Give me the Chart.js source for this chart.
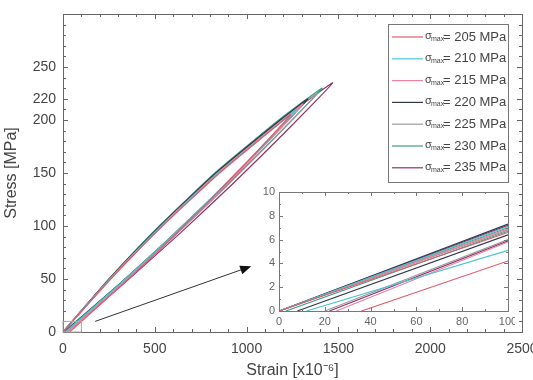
<!DOCTYPE html>
<html lang="en">
<head>
<meta charset="UTF-8">
<title>Stress-strain loops</title>
<script src="https://cdn.jsdelivr.net/npm/chart.js"></script>
<style>
    body {
        margin: 0;
        background: #fff;
    }

    .wrap {
        position: relative;
        width: 533px;
        height: 380px;
    }

    #mainChart {
        position: absolute;
        left: 0;
        top: 0;
    }

    #insetChart {
        position: absolute;
        left: 258px;
        top: 185px;
    }
</style>
</head>
<body>
<div class="wrap">
    <canvas id="mainChart" width="533" height="380"></canvas>
    <canvas id="insetChart" width="257" height="145"></canvas>
</div>

<script>
    // max stress of each loop [MPa]
    const sigmaMax = [205, 210, 215, 220, 225, 230, 235];
    const colors = ['#e05a6a', '#4cc3d3', '#e883a0', '#30384a', '#9a9a9a', '#3c9e82', '#96306a'];

    // loops: loading from origin up to the peak, then unloading down to the residual strain
    const strain205 = [0, 260, 542, 853, 1240, 1022, 793, 553, 300, 36];
    const stress205 = [0, 50, 100, 150, 205, 164, 123, 82, 41, 0];
    const strain210 = [0, 257, 538, 847, 1201, 1273, 1045, 805, 553, 288, 12];
    const stress210 = [0, 50, 100, 150, 200, 210, 168, 126, 84, 42, 0];
    const strain215 = [0, 255, 534, 842, 1195, 1307, 1075, 831, 575, 306, 25];
    const stress215 = [0, 50, 100, 150, 200, 215, 172, 129, 86, 43, 0];
    const strain220 = [0, 252, 528, 833, 1183, 1335, 1095, 843, 577, 299, 8];
    const stress220 = [0, 50, 100, 150, 200, 220, 176, 132, 88, 44, 0];
    const strain225 = [0, 254, 532, 839, 1191, 1383, 1136, 877, 605, 318, 20];
    const stress225 = [0, 50, 100, 150, 200, 225, 180, 135, 90, 45, 0];
    const strain230 = [0, 250, 524, 827, 1175, 1412, 1157, 889, 607, 312, 3];
    const stress230 = [0, 50, 100, 150, 200, 230, 184, 138, 92, 46, 0];
    const strain235 = [0, 252, 530, 836, 1187, 1469, 1207, 932, 643, 339, 22];
    const stress235 = [0, 50, 100, 150, 200, 235, 188, 141, 94, 47, 0];

    const loopStrain = [strain205, strain210, strain215, strain220, strain225, strain230, strain235];
    const loopStress = [stress205, stress210, stress215, stress220, stress225, stress230, stress235];

    // inset: first 100 microstrain of each loop
    const insetLoadEnd = [6.6, 7.1, 6.9, 7.3, 6.8, 7.0, 7.2];
    const insetResidual = [36, 12, 25, 8, 20, 3, 22];
    const insetUnloadEnd = [4.2, 5.1, 5.8, 6.4, 6.0, 6.7, 5.9];

    const xTickValues = [0, 500, 1000, 1500, 2000, 2500];
    const yTickValues = [0, 50, 100, 150, 200, 220, 250];
    const insetXTicks = [0, 20, 40, 60, 80, 100];
    const insetYTicks = [0, 2, 4, 6, 8, 10];

    // zoomed region and arrow, in data units
    const zoomBox = [0, 0, 100, 10];
    const arrowFrom = [175, 10];
    const arrowTo = [1025, 62];

    const fontFamily = "'Liberation Sans', Arial, sans-serif";
    const textColor = '#444';
    const frameColor = '#666';

    function drawTicks(ctx, chart, xMajor, xMinorStep, yMajor, yMinorStep, major, minor) {
        const a = chart.chartArea;
        const xs = chart.scales.x, ys = chart.scales.y;
        ctx.beginPath();
        for (let v = xs.min; v <= xs.max + 1e-9; v += xMinorStep) {
            const px = Math.round(xs.getPixelForValue(v)) + 0.5;
            const len = xMajor.includes(Math.round(v * 1000) / 1000) ? major : minor;
            ctx.moveTo(px, a.bottom); ctx.lineTo(px, a.bottom - len);
            ctx.moveTo(px, a.top); ctx.lineTo(px, a.top + len);
        }
        for (let v = ys.min; v <= ys.max + 1e-9; v += yMinorStep) {
            const py = Math.round(ys.getPixelForValue(v)) + 0.5;
            const len = yMajor.includes(Math.round(v * 1000) / 1000) ? major : minor;
            ctx.moveTo(a.left, py); ctx.lineTo(a.left + len, py);
            ctx.moveTo(a.right, py); ctx.lineTo(a.right - len, py);
        }
        ctx.stroke();
        ctx.strokeRect(Math.round(a.left) + 0.5, Math.round(a.top) + 0.5,
            Math.round(a.right - a.left), Math.round(a.bottom - a.top));
    }

    const mainDecor = {
        id: 'mainDecor',
        afterDatasetsDraw(chart) {
            const ctx = chart.ctx;
            const xs = chart.scales.x, ys = chart.scales.y;
            ctx.save();
            ctx.strokeStyle = frameColor;
            ctx.lineWidth = 1;
            drawTicks(ctx, chart, xTickValues, 100, yTickValues, 10, 5, 3);

            // small box round the zoomed region
            ctx.strokeStyle = '#aaa';
            const bx0 = xs.getPixelForValue(zoomBox[0]), by0 = ys.getPixelForValue(zoomBox[1]);
            const bx1 = xs.getPixelForValue(zoomBox[2]), by1 = ys.getPixelForValue(zoomBox[3]);
            ctx.strokeRect(bx0, by1, bx1 - bx0, by0 - by1);

            // arrow to the inset
            const x0 = xs.getPixelForValue(arrowFrom[0]), y0 = ys.getPixelForValue(arrowFrom[1]);
            const x1 = xs.getPixelForValue(arrowTo[0]), y1 = ys.getPixelForValue(arrowTo[1]);
            const ang = Math.atan2(y1 - y0, x1 - x0);
            ctx.strokeStyle = '#333';
            ctx.beginPath();
            ctx.moveTo(x0, y0);
            ctx.lineTo(x1 - 8 * Math.cos(ang), y1 - 8 * Math.sin(ang));
            ctx.stroke();
            ctx.fillStyle = '#111';
            ctx.beginPath();
            ctx.moveTo(x1, y1);
            ctx.lineTo(x1 - 11 * Math.cos(ang) + 4.5 * Math.sin(ang), y1 - 11 * Math.sin(ang) - 4.5 * Math.cos(ang));
            ctx.lineTo(x1 - 11 * Math.cos(ang) - 4.5 * Math.sin(ang), y1 - 11 * Math.sin(ang) + 4.5 * Math.cos(ang));
            ctx.closePath();
            ctx.fill();

            // legend box
            const lx = 388, ly = 24, lw = 120, lh = 158, step = 21.8;
            ctx.fillStyle = '#fff';
            ctx.fillRect(lx, ly, lw, lh);
            ctx.strokeStyle = '#777';
            ctx.strokeRect(lx + 0.5, ly + 0.5, lw, lh);
            sigmaMax.forEach((s, i) => {
                const y = ly + 13 + i * step;
                ctx.strokeStyle = colors[i];
                ctx.lineWidth = 1.2;
                ctx.beginPath();
                ctx.moveTo(lx + 4, y);
                ctx.lineTo(lx + 35, y);
                ctx.stroke();
                ctx.fillStyle = textColor;
                ctx.textBaseline = 'middle';
                ctx.textAlign = 'left';
                ctx.font = '11px ' + fontFamily;
                ctx.fillText('σ', lx + 37, y - 1);
                ctx.font = '7px ' + fontFamily;
                ctx.fillText('max', lx + 43, y + 2);
                ctx.font = '13px ' + fontFamily;
                ctx.fillText('= ' + s + ' MPa', lx + 55, y);
            });
            ctx.restore();
        }
    };

    const mainChart = new Chart(document.getElementById('mainChart'), {
        type: 'scatter',
        data: {
            datasets: sigmaMax.map((s, i) => ({
                label: 'σmax= ' + s + ' MPa',
                data: loopStrain[i].map((x, j) => ({ x: x, y: loopStress[i][j] })),
                showLine: true,
                borderColor: colors[i],
                borderWidth: 1.2,
                pointRadius: 0,
                tension: 0.15
            }))
        },
        options: {
            responsive: false,
            animation: false,
            layout: { padding: { top: 14, right: 11, left: 2, bottom: 0 } },
            plugins: { legend: { display: false }, tooltip: { enabled: false } },
            scales: {
                x: {
                    type: 'linear', min: 0, max: 2500,
                    afterBuildTicks: s => { s.ticks = xTickValues.map(v => ({ value: v })); },
                    afterFit: s => { s.height = 48; s.paddingLeft = 0; s.paddingRight = 0; },
                    grid: { display: false, drawTicks: false },
                    border: { display: false },
                    ticks: { color: textColor, font: { family: fontFamily, size: 14 }, padding: 9, maxRotation: 0, autoSkip: false, callback: v => String(v) },
                    title: { display: true, text: 'Strain [x10⁻⁶]', color: textColor, font: { family: fontFamily, size: 16 }, padding: { top: 0, bottom: 0 } }
                },
                y: {
                    type: 'linear', min: 0, max: 300,
                    afterBuildTicks: s => { s.ticks = yTickValues.map(v => ({ value: v })); },
                    afterFit: s => { s.width = 61; s.paddingTop = 0; s.paddingBottom = 0; },
                    grid: { display: false, drawTicks: false },
                    border: { display: false },
                    ticks: { color: textColor, font: { family: fontFamily, size: 14 }, padding: 7, autoSkip: false, callback: v => String(v) },
                    title: { display: true, text: 'Stress [MPa]', color: textColor, font: { family: fontFamily, size: 16 }, padding: { top: 0, bottom: 0 } }
                }
            }
        },
        plugins: [mainDecor]
    });

    // inset chart
    const insetDatasets = [];
    sigmaMax.forEach((s, i) => {
        insetDatasets.push({
            data: [{ x: 0, y: 0 }, { x: 100, y: insetLoadEnd[i] }],
            showLine: true, borderColor: colors[i], borderWidth: 1.1, pointRadius: 0
        });
        insetDatasets.push({
            data: [{ x: insetResidual[i], y: 0 }, { x: 100, y: insetUnloadEnd[i] }],
            showLine: true, borderColor: colors[i], borderWidth: 1.1, pointRadius: 0
        });
    });

    const insetDecor = {
        id: 'insetDecor',
        beforeDraw(chart) {
            const a = chart.chartArea;
            chart.ctx.save();
            chart.ctx.fillStyle = '#fff';
            chart.ctx.fillRect(a.left, a.top, a.right - a.left, a.bottom - a.top);
            chart.ctx.restore();
        },
        afterDatasetsDraw(chart) {
            const ctx = chart.ctx;
            ctx.save();
            ctx.strokeStyle = '#777';
            ctx.lineWidth = 1;
            drawTicks(ctx, chart, insetXTicks, 10, insetYTicks, 1, 4, 2);
            ctx.restore();
        }
    };

    const insetChart = new Chart(document.getElementById('insetChart'), {
        type: 'scatter',
        data: { datasets: insetDatasets },
        options: {
            responsive: false,
            animation: false,
            layout: { padding: { top: 7, right: 7, left: 0, bottom: 0 } },
            plugins: { legend: { display: false }, tooltip: { enabled: false } },
            scales: {
                x: {
                    type: 'linear', min: 0, max: 100,
                    afterBuildTicks: s => { s.ticks = insetXTicks.map(v => ({ value: v })); },
                    afterFit: s => { s.height = 19; s.paddingLeft = 0; s.paddingRight = 0; },
                    grid: { display: false, drawTicks: false },
                    border: { display: false },
                    ticks: { color: '#666', font: { family: fontFamily, size: 11 }, padding: 4, maxRotation: 0, autoSkip: false }
                },
                y: {
                    type: 'linear', min: 0, max: 10,
                    afterBuildTicks: s => { s.ticks = insetYTicks.map(v => ({ value: v })); },
                    afterFit: s => { s.width = 21; s.paddingTop = 0; s.paddingBottom = 0; },
                    grid: { display: false, drawTicks: false },
                    border: { display: false },
                    ticks: { color: '#666', font: { family: fontFamily, size: 11 }, padding: 4, autoSkip: false }
                }
            }
        },
        plugins: [insetDecor]
    });
</script>
</body>
</html>
